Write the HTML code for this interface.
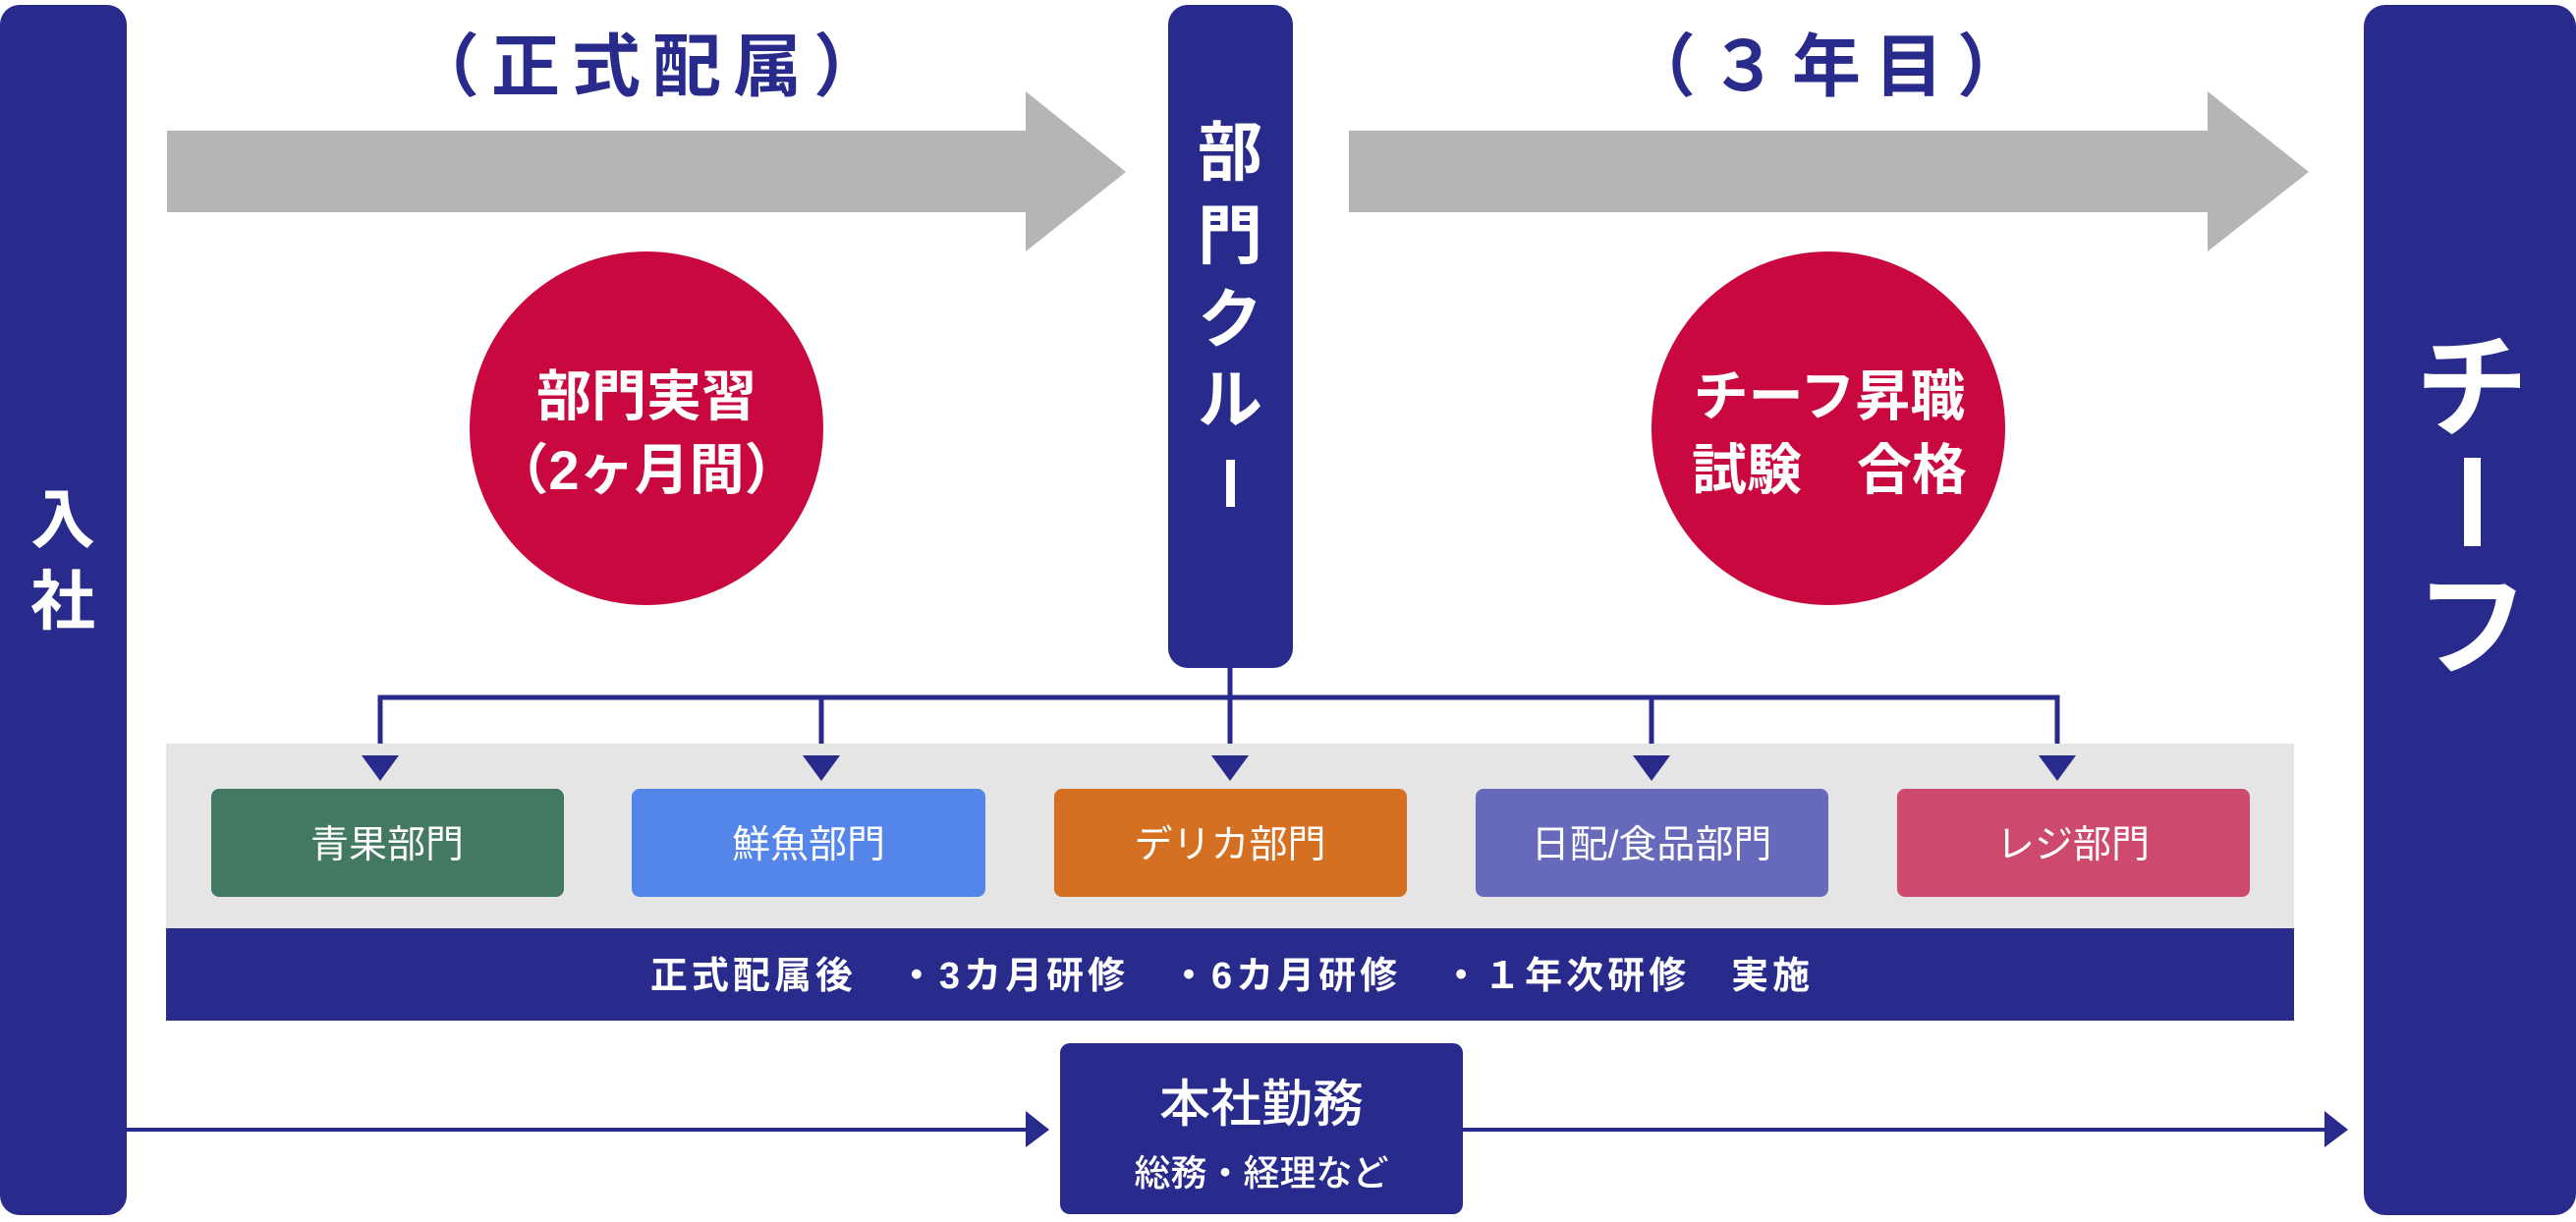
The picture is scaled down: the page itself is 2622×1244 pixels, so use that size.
<!DOCTYPE html>
<html><head><meta charset="utf-8"><style>
html,body{margin:0;padding:0;background:#fff}
body{width:2622px;height:1239px;overflow:hidden;position:relative}
svg text{font-family:"Liberation Sans","Noto Sans CJK JP",sans-serif}
</style></head><body>
<svg width="2622" height="1239" viewBox="0 0 2622 1239" xmlns="http://www.w3.org/2000/svg">
<rect x="0" y="5" width="129" height="1232" rx="20" fill="#282a8c"/>
<rect x="1189" y="5" width="127" height="675" rx="20" fill="#282a8c"/>
<rect x="2406" y="5" width="216" height="1232" rx="22" fill="#282a8c"/>
<polygon points="170,133 1044,133 1044,93 1146,175 1044,256 1044,216 170,216" fill="#b5b5b5"/>
<polygon points="1373,133 2247,133 2247,93 2350,175 2247,256 2247,216 1373,216" fill="#b5b5b5"/>
<text x="664" y="92" font-size="70" font-weight="700" fill="#282a8c" text-anchor="middle" letter-spacing="12">（正式配属）</text>
<text x="1866" y="92" font-size="70" font-weight="700" fill="#282a8c" text-anchor="middle" letter-spacing="14">（３年目）</text>
<circle cx="658" cy="436" r="180" fill="#c8083f"/>
<circle cx="1861" cy="436" r="180" fill="#c8083f"/>
<g font-size="56" font-weight="700" fill="#fff" text-anchor="middle">
<text x="658" y="423">部門実習</text>
<text x="658" y="498">（2ヶ月間）</text>
<text x="1862" y="423">チーフ昇職</text>
<text x="1862" y="498">試験　合格</text>
</g>
<g font-size="66" font-weight="700" fill="#fff" text-anchor="middle">
<text x="64" y="552">入</text>
<text x="64" y="635">社</text>
<text x="1252" y="178">部</text>
<text x="1252" y="263">門</text>
<text x="1252" y="348">ク</text>
<text x="1252" y="430">ル</text>
</g>
<rect x="1248" y="468" width="9" height="48" fill="#fff"/>
<g font-size="115" font-weight="700" fill="#fff" text-anchor="middle">
<text x="2516" y="435">チ</text>
<text x="2516" y="678">フ</text>
</g>
<rect x="2508" y="466" width="17" height="90" fill="#fff"/>
<g stroke="#282a8c" stroke-width="5" fill="none">
<line x1="1252" y1="680" x2="1252" y2="772"/>
<polyline points="387,772 387,710 2094,710 2094,772"/>
<line x1="836" y1="710" x2="836" y2="772"/>
<line x1="1681" y1="710" x2="1681" y2="772"/>
</g>
<rect x="169" y="757" width="2166" height="188" fill="#e5e5e5"/>
<g fill="#282a8c">
<polygon points="368,769 406,769 387,795"/>
<polygon points="817,769 855,769 836,795"/>
<polygon points="1233,769 1271,769 1252,795"/>
<polygon points="1662,769 1700,769 1681,795"/>
<polygon points="2075,769 2113,769 2094,795"/>
</g>
<rect x="215" y="803" width="359" height="110" rx="8" fill="#437862"/>
<rect x="643" y="803" width="360" height="110" rx="8" fill="#5485e8"/>
<rect x="1073" y="803" width="359" height="110" rx="8" fill="#d56f22"/>
<rect x="1502" y="803" width="359" height="110" rx="8" fill="#6769bb"/>
<rect x="1931" y="803" width="359" height="110" rx="8" fill="#cd4a6d"/>
<g font-size="39" fill="#fff" text-anchor="middle">
<text x="394" y="873">青果部門</text>
<text x="823" y="873">鮮魚部門</text>
<text x="1252" y="873">デリカ部門</text>
<text x="1681" y="873">日配/食品部門</text>
<text x="2110" y="873">レジ部門</text>
</g>
<rect x="169" y="945" width="2166" height="94" fill="#282a8c"/>
<text x="1254" y="1006" font-size="38" font-weight="700" fill="#fff" text-anchor="middle" letter-spacing="4" xml:space="preserve">正式配属後　・3カ月研修　・6カ月研修　・１年次研修　実施</text>
<rect x="1079" y="1062" width="410" height="174" rx="10" fill="#282a8c"/>
<text x="1284" y="1142" font-size="52" font-weight="500" fill="#fff" text-anchor="middle">本社勤務</text>
<text x="1284" y="1207" font-size="37" font-weight="500" fill="#fff" text-anchor="middle">総務・経理など</text>
<g stroke="#282a8c" stroke-width="4">
<line x1="129" y1="1150" x2="1046" y2="1150"/>
<line x1="1489" y1="1150" x2="2368" y2="1150"/>
</g>
<polygon points="1044,1131 1068,1150 1044,1168" fill="#282a8c"/>
<polygon points="2366,1131 2390,1150 2366,1168" fill="#282a8c"/>
</svg>
</body></html>
